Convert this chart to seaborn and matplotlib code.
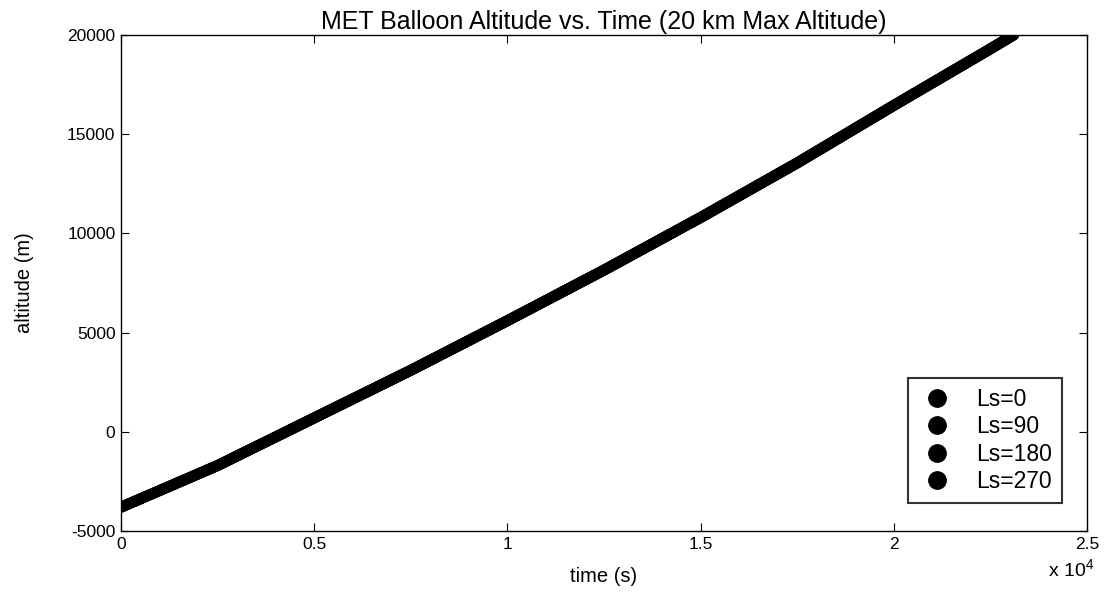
#!/usr/bin/env python3
"""MET balloon altitude vs. time, redrawn with seaborn."""

import matplotlib.pyplot as plt
import pandas as pd
import seaborn as sns
from matplotlib.lines import Line2D

plt.switch_backend("Agg")

TIME_S = [0, 2500, 5000, 7500, 10000, 12500, 15000, 17500, 20000, 22500, 23100]
ALTITUDE_M = [-3800, -1700, 700, 3100, 5600, 8150, 10800, 13550, 16450, 19300, 20000]
SEASONS = ["Ls=0", "Ls=90", "Ls=180", "Ls=270"]
X_TICKS = [0, 5000, 10000, 15000, 20000, 25000]
X_TICK_LABELS = ["0", "0.5", "1", "1.5", "2", "2.5"]
Y_TICKS = [-5000, 0, 5000, 10000, 15000, 20000]


def main() -> None:
    sns.set_style("white")
    plt.rcParams["font.family"] = ["Liberation Sans", "DejaVu Sans"]
    plt.rcParams["text.color"] = "black"
    plt.rcParams["axes.labelcolor"] = "black"
    plt.rcParams["mathtext.fontset"] = "custom"
    plt.rcParams["mathtext.rm"] = "Liberation Sans"
    plt.rcParams["mathtext.it"] = "Liberation Sans:italic"

    frame = pd.DataFrame(
        {
            "time": TIME_S * len(SEASONS),
            "altitude": ALTITUDE_M * len(SEASONS),
            "season": [s for s in SEASONS for _ in TIME_S],
        }
    )

    fig = plt.figure(figsize=(11.07, 5.92), dpi=100)
    ax = fig.add_axes([0.1093, 0.103, 0.8727, 0.838])
    sns.lineplot(
        data=frame,
        x="time",
        y="altitude",
        hue="season",
        palette=["black"] * len(SEASONS),
        linewidth=7.8,
        estimator=None,
        legend=False,
        ax=ax,
    )

    ax.set_xlim(0, 25000)
    ax.set_ylim(-5000, 20000)
    ax.set_xticks(X_TICKS)
    ax.set_xticklabels(X_TICK_LABELS)
    ax.set_yticks(Y_TICKS)
    ax.set_yticklabels([str(v) for v in Y_TICKS])
    ax.tick_params(
        direction="in", length=6, width=0.8, colors="black", labelsize=12.5,
        top=True, right=True, bottom=True, left=True, pad=4,
    )
    for spine in ax.spines.values():
        spine.set_color("black")
        spine.set_linewidth(1.0)

    ax.set_xlabel("time (s)", fontsize=14.5, labelpad=11)
    ax.set_ylabel("altitude (m)", fontsize=14.5, labelpad=24)
    ax.set_title("MET Balloon Altitude vs. Time (20 km Max Altitude)", fontsize=18, pad=4)
    ax.text(0.983, -0.077, r"x 10$^{4}$", transform=ax.transAxes,
            ha="center", va="center", fontsize=14)

    handles = [
        Line2D([], [], marker="o", linestyle="none", color="black", markersize=12.5)
        for _ in SEASONS
    ]
    legend = ax.legend(
        handles, SEASONS, loc="lower right", bbox_to_anchor=(0.974, 0.0565),
        borderaxespad=0, fontsize=16.5, frameon=True, fancybox=False,
        labelspacing=0.18, handletextpad=0.9, borderpad=0.45, handlelength=1.6,
    )
    legend.get_frame().set_edgecolor("black")
    legend.get_frame().set_linewidth(1.5)

    fig.savefig("out.png", dpi=100)
    plt.close(fig)


if __name__ == "__main__":
    main()
